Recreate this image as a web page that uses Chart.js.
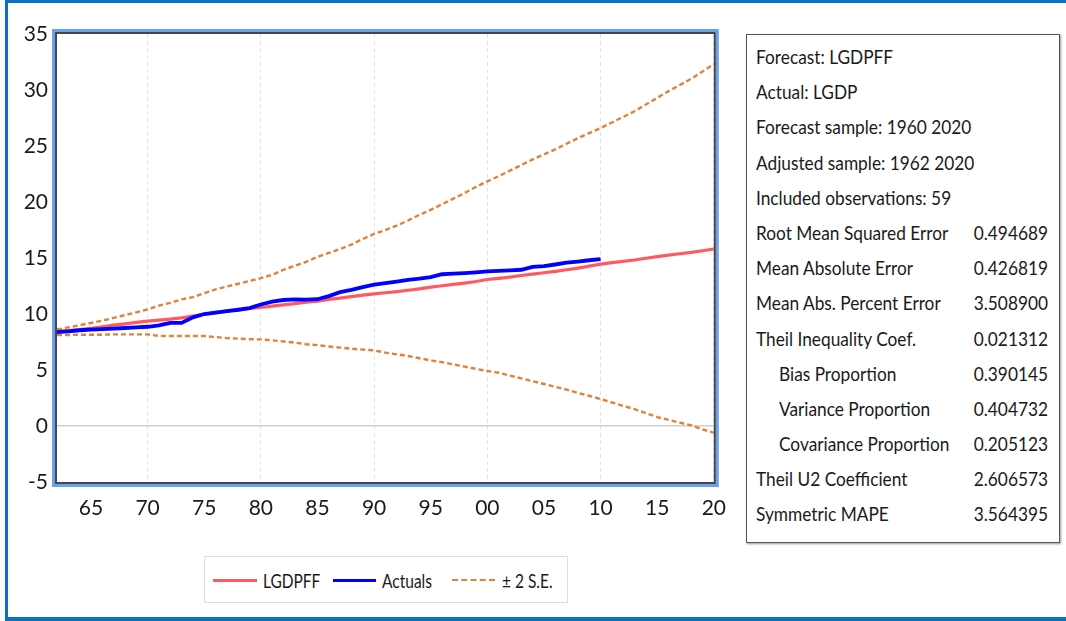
<!DOCTYPE html>
<html>
<head>
<meta charset="utf-8">
<script src="https://cdn.jsdelivr.net/npm/chart.js@4.4.0/dist/chart.umd.min.js"></script>
<style>
body{margin:0;background:#fff;font-family:Lato,sans-serif;color:#1a1a1a}
#page{position:relative;width:1066px;height:621px;overflow:hidden}
#frame{position:absolute;left:5px;top:0;width:1100px;height:621px;box-sizing:border-box;border-left:3px solid #0b6fc2;border-top:3px solid #0b6fc2;border-bottom:4px solid #0b6fc2}
#c{position:absolute;left:0;top:0}
#legend{position:absolute;left:204px;top:556px;width:364px;height:47px;box-sizing:border-box;border:1px solid #dedede;font-size:15.5px}
#legend .ln{position:absolute;top:22px;height:0}
#legend .tx{position:absolute;top:12px;line-height:22px;transform:scaleY(1.25)}
#stats{position:absolute;left:746px;top:34px;width:314px;height:509px;box-sizing:border-box;border:1px solid #555;box-shadow:1px 1px 2px #999;font-size:17.3px;padding-top:4px}
#stats .row{position:relative;height:35.2px;line-height:35.2px}
#stats span{position:absolute;display:inline-block;transform:scaleY(1.12)}
#stats .lab{left:9px}
#stats .lab.in{left:32px}
#stats .val{right:11px}
</style>
</head>
<body>
<div id="page">
  <div id="frame"></div>
  <canvas id="c" width="740" height="540"></canvas>
  <div id="legend">
    <div class="ln" style="left:8px;width:44px;border-top:3px solid #ff5a5f"></div>
    <div class="tx" style="left:58px">LGDPFF</div>
    <div class="ln" style="left:128px;width:43px;border-top:3px solid #0000ff"></div>
    <div class="tx" style="left:177px">Actuals</div>
    <div class="ln" style="left:247px;width:43px;border-top:2px dashed #e0823a"></div>
    <div class="tx" style="left:297px">± 2 S.E.</div>
  </div>
  <div id="stats"></div>
</div>
<script>
// years on the x axis
var years = []
for (let y = 1962; y <= 2020; y++) years.push(y)

// forecast LGDPFF
var forecast = [8.45,8.52,8.60,8.72,8.85,9.00,9.12,9.25,9.36,9.45,
  9.55,9.66,9.82,9.98,10.12,10.25,10.36,10.49,10.58,10.70,
  10.82,10.93,11.05,11.15,11.30,11.42,11.55,11.68,11.80,11.90,
  12.00,12.12,12.25,12.40,12.52,12.64,12.76,12.90,13.08,13.18,
  13.30,13.44,13.56,13.68,13.80,13.95,14.10,14.28,14.45,14.58,
  14.70,14.82,14.98,15.12,15.25,15.38,15.50,15.65,15.80]

// actual LGDP (ends 2010)
var actuals = [8.38,8.45,8.55,8.60,8.65,8.70,8.75,8.80,8.86,8.98,
  9.20,9.20,9.70,10.00,10.12,10.25,10.38,10.52,10.85,11.10,
  11.25,11.30,11.28,11.32,11.60,11.95,12.15,12.40,12.62,12.75,
  12.90,13.05,13.15,13.30,13.55,13.60,13.65,13.72,13.80,13.85,
  13.90,13.95,14.20,14.28,14.42,14.58,14.68,14.80,14.90,
  null,null,null,null,null,null,null,null,null,null]

// +/- 2 S.E. bands
var upperSE = [8.62,8.80,9.00,9.20,9.40,9.65,9.90,10.15,10.40,10.75,
  11.00,11.30,11.50,11.85,12.20,12.45,12.70,12.95,13.20,13.50,
  13.95,14.30,14.65,15.10,15.45,15.80,16.20,16.70,17.15,17.50,
  17.90,18.35,18.85,19.30,19.80,20.30,20.80,21.35,21.85,22.30,
  22.80,23.30,23.80,24.25,24.70,25.20,25.70,26.15,26.60,27.10,
  27.60,28.10,28.70,29.30,29.90,30.45,31.00,31.65,32.30]
var lowerSE = [8.12,8.12,8.15,8.15,8.15,8.18,8.18,8.18,8.18,8.05,
  8.03,8.03,8.03,8.03,7.95,7.85,7.80,7.75,7.73,7.65,
  7.55,7.45,7.30,7.22,7.10,7.00,6.90,6.82,6.75,6.55,
  6.40,6.25,6.05,5.85,5.70,5.50,5.30,5.10,4.92,4.75,
  4.50,4.25,4.00,3.75,3.50,3.25,2.95,2.70,2.40,2.10,
  1.80,1.50,1.15,0.80,0.55,0.30,0.05,-0.30,-0.60]

// forecast evaluation table
var statLabels = ['Forecast: LGDPFF','Actual: LGDP','Forecast sample: 1960 2020','Adjusted sample: 1962 2020',
  'Included observations: 59','Root Mean Squared Error','Mean Absolute Error','Mean Abs. Percent Error',
  'Theil Inequality Coef.','Bias Proportion','Variance Proportion','Covariance Proportion',
  'Theil U2 Coefficient','Symmetric MAPE']
var statValues = ['','','','','','0.494689','0.426819','3.508900','0.021312','0.390145','0.404732','0.205123','2.606573','3.564395']

var box = document.getElementById('stats')
statLabels.forEach((s, i) => {
  let indent = (i >= 9 && i <= 11) ? ' in' : ''
  box.innerHTML += '<div class="row"><span class="lab' + indent + '">' + s + '</span><span class="val">' + statValues[i] + '</span></div>'
})

var fontFam = 'Lato, sans-serif'
var orange = '#e0823a'

// blue + grey frame round the plot area
var plotFrame = {
  id: 'plotFrame',
  afterDraw(chart) {
    let ctx = chart.ctx, a = chart.chartArea
    ctx.save()
    ctx.strokeStyle = '#6b9ff0'
    ctx.lineWidth = 3
    ctx.strokeRect(a.left - 3.5, a.top - 3.5, a.right - a.left + 7, a.bottom - a.top + 7)
    ctx.strokeStyle = '#454545'
    ctx.lineWidth = 2
    ctx.strokeRect(a.left - 1, a.top - 1, a.right - a.left + 2, a.bottom - a.top + 2)
    ctx.restore()
  }
}

new Chart(document.getElementById('c'), {
  type: 'line',
  data: {
    labels: years,
    datasets: [
      {label: 'Actuals', data: actuals, borderColor: '#0000ff', borderWidth: 3.8, order: 0},
      {label: 'LGDPFF', data: forecast, borderColor: '#ff5a5f', borderWidth: 3.2, order: 1},
      {label: '+2 S.E.', data: upperSE, borderColor: orange, borderWidth: 2.4, borderDash: [5, 3], order: 2},
      {label: '-2 S.E.', data: lowerSE, borderColor: orange, borderWidth: 2.4, borderDash: [5, 3], order: 2}
    ]
  },
  options: {
    responsive: false,
    animation: false,
    devicePixelRatio: 1,
    elements: {point: {radius: 0}, line: {tension: 0, fill: false}},
    layout: {padding: {left: 0, top: 34, right: 23, bottom: 18}},
    plugins: {legend: {display: false}, tooltip: {enabled: false}},
    scales: {
      x: {
        type: 'category',
        afterBuildTicks: s => { s.ticks = s.ticks.filter(t => years[t.value] % 5 === 0) },
        afterFit: s => { s.height = 40 },
        ticks: {
          autoSkip: false, maxRotation: 0, minRotation: 0, padding: 14,
          color: '#1a1a1a', font: {family: fontFam, size: 21},
          callback: v => String(years[v] % 100).padStart(2, '0')
        },
        grid: {
          drawTicks: false, lineWidth: 1,
          color: c => (c.tick && years[c.tick.value] % 10 === 0) ? '#e2e2e2' : 'transparent'
        },
        border: {display: false, dash: [4, 3]}
      },
      y: {
        min: -5, max: 35,
        afterFit: s => { s.width = 57 },
        ticks: {stepSize: 5, padding: 9, color: '#1a1a1a', font: {family: fontFam, size: 21}},
        grid: {
          drawTicks: false, lineWidth: 1.5,
          color: c => (c.tick && c.tick.value === 0) ? '#cfcfcf' : 'transparent'
        },
        border: {display: false}
      }
    }
  },
  plugins: [plotFrame]
})
</script>
</body>
</html>
